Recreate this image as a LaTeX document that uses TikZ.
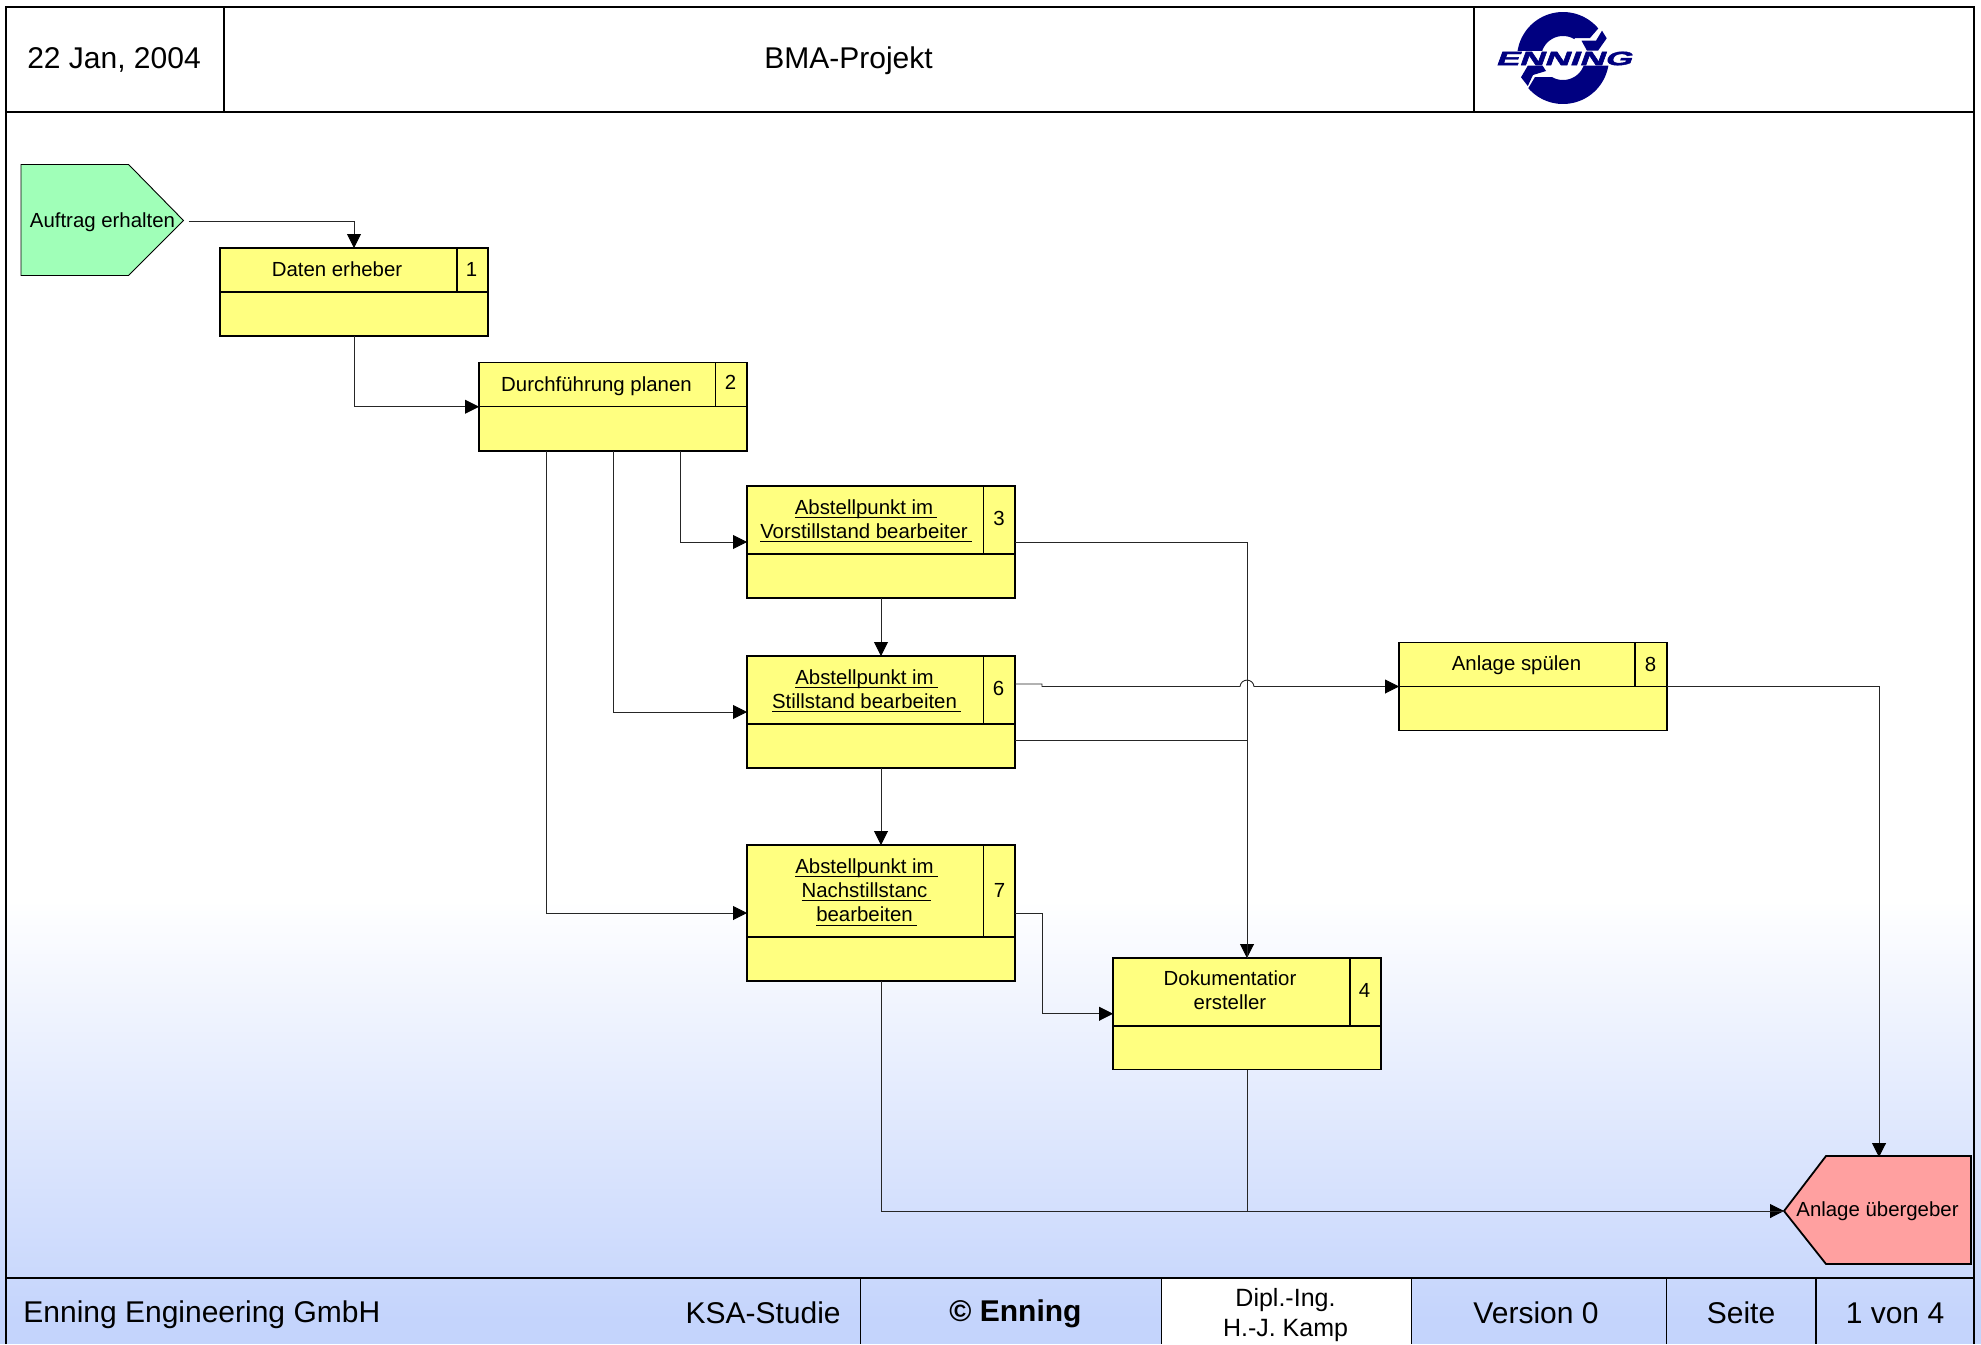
\documentclass[tikz,border=0pt]{standalone}
\usepackage{fontspec}
\setmainfont{Liberation Sans}
\newfontfamily\logofont[FakeBold=2,FakeSlant=0.2]{Liberation Sans Bold}
\usetikzlibrary{arrows.meta,calc}
\definecolor{boxyellow}{HTML}{FFFF80}
\definecolor{startgreen}{HTML}{A0FFB8}
\definecolor{endred}{HTML}{FFA0A0}
\definecolor{footblue}{HTML}{C4D4FC}
\definecolor{logoblue}{HTML}{000080}
\newcommand{\ultext}[1]{\leavevmode\setbox0\hbox{#1\kern2pt}\rlap{\rule[-1.9pt]{\wd0}{0.55pt}}\box0 }
\tikzset{
  frameline/.style={line width=1pt,black},
  footline/.style={line width=0.6pt,black},
  procbox/.style={draw=black,fill=boxyellow,line width=0.9pt,inner sep=0pt,outer sep=0pt},
  inner line/.style={line width=0.9pt,black},
  conn/.style={line width=0.45pt,black!85},
  arr/.style={conn,-{Triangle[length=7pt,width=7pt,black]}},
  boxtext/.style={inner sep=0pt,align=center,font=\fontsize{10.2}{12.15}\selectfont},
  headtext/.style={inner sep=0pt,align=center,font=\fontsize{15}{18}\selectfont},
  hull/.style={inner sep=0pt,outer sep=0pt,boxtext},
}
% name, left, top, right, bottom, middle, divider
\newcommand{\procshape}[7]{%
  \node[procbox,minimum width={(#4-#2)*0.5pt},minimum height={(#5-#3)*0.5pt}] (#1) at ({(#2+#4)/2},{(#3+#5)/2}) {};
  \draw[inner line] (#2,#6) -- (#4,#6) (#7,#3) -- (#7,#6);
}
\begin{document}
\begin{tikzpicture}[x=0.5pt,y=-0.5pt]
\useasboundingbox (0,0) rectangle (1981,1344);
\clip (0,0) rectangle (1981,1344);
% background
\fill[white] (0,0) rectangle (1981,900);
\shade[top color=white,bottom color=footblue] (0,900) rectangle (1981,1320);
\fill[footblue] (0,1320) rectangle (1981,1344);
\fill[white] (1161,1277) rectangle (1411,1344);
% header and footer frame
\draw[frameline] (5.5,1344) -- (5.5,6.5) -- (1974,6.5) -- (1974,1344);
\draw[frameline] (5.5,112) -- (1974,112);
\draw[frameline] (223.5,6.5) -- (223.5,112);
\draw[footline] (1474,6.5) -- (1474,112);
\draw[footline] (5.5,1278) -- (1974,1278);
\draw[footline] (860.5,1278) -- (860.5,1344);
\draw[footline] (1161.5,1278) -- (1161.5,1344);
\draw[footline] (1411.5,1278) -- (1411.5,1344);
\draw[footline] (1666.5,1278) -- (1666.5,1344);
\draw[footline] (1816,1278) -- (1816,1344);
% header text
\node[headtext] (date) at (114,59.5) {22 Jan, 2004};
\node[headtext] (title) at (848.5,60.5) {BMA-Projekt};
% logo
\fill[logoblue] plot[domain=171:40,samples=40] ({1563+46*cos(\x)},{58-46*sin(\x)}) -- (1590,38) -- (1575,38) -- plot[domain=59:161,samples=30] ({1563+22*cos(\x)},{58-22*sin(\x)}) -- cycle;
\fill[logoblue] (1581.5,40.7) -- (1596,40.7) -- (1602,30.7) -- (1606.7,38.3) -- (1598,50.7) -- (1587,50.7) -- cycle;
\fill[logoblue] plot[domain=-9.5:-139,samples=40] ({1563+46*cos(\x)},{58-46*sin(\x)}) -- (1535,77) -- (1552,77) -- plot[domain=-120:-20,samples=30] ({1563+22*cos(\x)},{58-22*sin(\x)}) -- cycle;
\fill[logoblue] (1521,77.3) -- (1527.8,65.7) -- (1542.6,65.7) -- (1546,71) -- (1533,75) -- (1527.8,86) -- cycle;
\node[inner sep=0pt,text=logoblue] (logotext) at (1563.5,58.5) {\scalebox{1.82}[1]{\logofont\fontsize{9.6}{10}\selectfont ENNING}};
% start event
\fill[startgreen,draw=black,line width=0.45pt] (21,164.5) -- (128.6,164.5) -- (183.5,220.5) -- (128.6,275.5) -- (21,275.5) -- cycle;
\node[hull,minimum width=81.25pt,minimum height=55.5pt] (start) at (102.25,221) {};
\node[boxtext] (starttext) at (102.5,222.5) {Auftrag erhalten};
% end event
\fill[endred,draw=black,line width=0.9pt] (1784,1211) -- (1826,1156) -- (1971,1156) -- (1971,1264) -- (1826,1264) -- cycle;
\node[inner sep=0pt,outer sep=0pt,minimum width=95pt,minimum height=54pt] (end) at (1879,1211) {};
\node[boxtext] (endtext) at (1877.5,1211) {Anlage übergeber};
% process boxes
\procshape{b1}{220}{248}{488}{336}{292}{456.7}
\procshape{b2}{479}{362.5}{747}{451}{406.5}{715.5}
\procshape{b3}{747}{486}{1015}{598}{554}{983.5}
\procshape{b6}{747}{656}{1015}{768}{724}{983.5}
\procshape{b7}{747}{845}{1015}{981}{937}{983.5}
\procshape{b4}{1113}{958}{1381}{1069.5}{1026}{1350}
\procshape{b8}{1399}{642.5}{1667}{730.5}{686.5}{1635}
% box texts
\node[boxtext] (t1) at (337,269) {Daten erheber};
\node[boxtext] (n1) at (471.5,269) {1};
\node[boxtext] (t2) at (596.5,386) {Durchführung planen};
\node[boxtext] (n2) at (730.5,382.5) {2};
\node[boxtext] (t3) at (866,521) {\ultext{Abstellpunkt im}\\\ultext{Vorstillstand bearbeiter}};
\node[boxtext] (n3) at (999,518) {3};
\node[boxtext] (t6) at (866.5,691) {\ultext{Abstellpunkt im}\\\ultext{Stillstand bearbeiten}};
\node[boxtext] (n6) at (998.5,688.5) {6};
\node[boxtext] (t7) at (866.5,892) {\ultext{Abstellpunkt im}\\\ultext{Nachstillstanc}\\\ultext{bearbeiten}};
\node[boxtext] (n7) at (999.5,890) {7};
\node[boxtext] (t4) at (1230,990) {Dokumentatior\\ersteller};
\node[boxtext] (n4) at (1364.5,990.5) {4};
\node[boxtext] (t8) at (1516.5,665.5) {Anlage spülen};
\node[boxtext] (n8) at (1650.5,664) {8};
% connectors
\draw[arr] ([xshift=2.5pt]start.east) -| (b1.north);
\draw[arr] (b1.south) |- (b2.west);
\draw[arr] ([xshift=33.5pt]b2.south) |- (b3.west);
\draw[arr] (b2.south) |- (b6.west);
\draw[arr] ([xshift=-33.5pt]b2.south) |- (b7.west);
\draw[arr] (b3.south) -- (b6.north);
\draw[arr] (b6.south) -- (b7.north);
\draw[arr] (b3.east) -| (b4.north);
\draw[conn] ([yshift=-14pt]b6.east) -| (b4.north);
\coordinate (s6a) at (1042,684);
\coordinate (s6b) at (1042,686.5);
\coordinate (jumpl) at (1240,686.5);
\coordinate (jumpc1) at (1241,678);
\coordinate (jumpc2) at (1253,678);
\coordinate (jumpr) at (1254,686.5);
\draw[arr] ([yshift=14pt]b6.east) -- (s6a) -- (s6b) -- (jumpl) .. controls (jumpc1) and (jumpc2) .. (jumpr) -- (b8.west);
\draw[arr] (b7.east) -- ++(13.5pt,0) |- (b4.west);
\draw[arr] (b7.south) |- (end.west);
\draw[conn] (b4.south) |- (end.west);
\draw[arr] (b8.east) -| (end.north);
% footer text
\node[headtext,anchor=west] (firm) at (23,1315) {Enning Engineering GmbH};
\node[headtext,anchor=east] (study) at (841,1313) {KSA-Studie};
\node[headtext] (copy) at (1015.5,1314) {\bfseries © Enning};
\node[inner sep=0pt,align=center,font=\fontsize{12.5}{15}\selectfont] (author) at (1285.5,1315.5) {Dipl.-Ing.\\H.-J. Kamp};
\node[headtext] (version) at (1536,1313) {Version 0};
\node[headtext] (seite) at (1741,1313) {Seite};
\node[headtext] (page) at (1895,1313) {1 von 4};
\end{tikzpicture}
\end{document}
